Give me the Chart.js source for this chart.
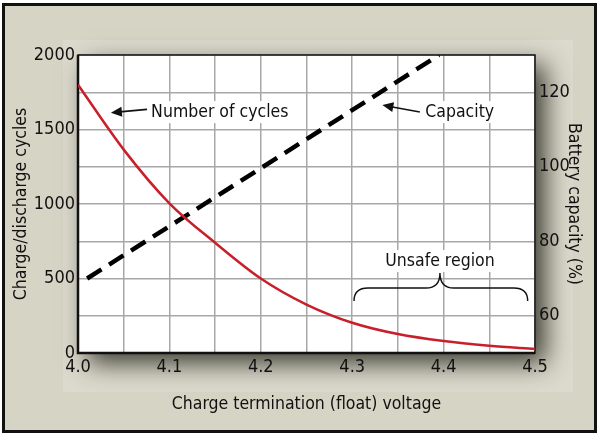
<!DOCTYPE html>
<html>
<head>
<meta charset="utf-8">
<script src="https://cdn.jsdelivr.net/npm/chart.js@4.4.1/dist/chart.umd.min.js"></script>
<style>
  html, body { margin: 0; padding: 0; background: #fff; }
  canvas { display: block; }
</style>
</head>
<body>
<canvas id="chart" width="600" height="440"></canvas>
<script>
// Chart data
const voltages   = [4.0, 4.05, 4.1, 4.15, 4.2, 4.25, 4.3, 4.35, 4.4, 4.45, 4.5];
const cycles     = [1800, 1365, 1005, 740, 500, 325, 203, 127, 80, 49, 27];
const capVolts   = [4.01, 4.395];
const capacity   = [70, 130];
const cycleTicks = [0, 500, 1000, 1500, 2000];
const capTicks   = [60, 80, 100, 120];
const voltTicks  = [4.0, 4.1, 4.2, 4.3, 4.4, 4.5];

const FONT = '"DejaVu Sans Condensed", "Liberation Sans Narrow", "Roboto", sans-serif';

// callouts, in data units (x = volts, y = cycles)
const notes = {
  cycles:   { text: 'Number of cycles', x: 4.08, y: 1617, from: [4.0755, 1635], to: [4.036, 1613] },
  capacity: { text: 'Capacity',         x: 4.38, y: 1617, from: [4.374, 1617],  to: [4.333, 1664] },
  unsafe:   { text: 'Unsafe region',    x: 4.396, y: 617, x0: 4.302, x1: 4.492, yEnd: 349, yMid: 436, yPeak: 537 }
};

// background, frame and shadowed plot panel
const panelPlugin = {
  id: 'panel',
  beforeDraw(chart) {
    const { ctx, chartArea: a } = chart;
    ctx.save();
    ctx.fillStyle = '#fff';
    ctx.fillRect(0, 0, 600, 440);
    ctx.fillStyle = '#d6d4c5';
    ctx.fillRect(3, 4, 593, 428);
    ctx.fillStyle = '#dcdacd';
    ctx.fillRect(63, 40, 510, 352);
    ctx.lineWidth = 3;
    ctx.strokeStyle = '#111';
    ctx.strokeRect(3.5, 4.5, 592, 427);

    ctx.shadowColor = 'rgba(30,30,20,0.85)';
    ctx.shadowBlur = 24;
    ctx.shadowOffsetX = 10;
    ctx.shadowOffsetY = 10;
    ctx.fillStyle = '#fff';
    ctx.fillRect(a.left, a.top, a.right - a.left, a.bottom - a.top);
    ctx.restore();
  },
  beforeDatasetsDraw(chart) {
    const { ctx, chartArea: a } = chart;
    ctx.save();
    ctx.strokeStyle = '#111';
    ctx.lineWidth = 1.5;
    ctx.strokeRect(a.left, a.top, a.right - a.left, a.bottom - a.top);
    ctx.lineWidth = 2.5;
    ctx.beginPath();
    ctx.moveTo(a.left, a.top);
    ctx.lineTo(a.left, a.bottom);
    ctx.lineTo(a.right, a.bottom);
    ctx.stroke();
    ctx.restore();
  }
};

function arrow(ctx, x0, y0, x1, y1) {
  const ang = Math.atan2(y1 - y0, x1 - x0);
  const len = 11, half = 5;
  ctx.beginPath();
  ctx.moveTo(x0, y0);
  ctx.lineTo(x1 - Math.cos(ang) * len * 0.8, y1 - Math.sin(ang) * len * 0.8);
  ctx.stroke();
  ctx.beginPath();
  ctx.moveTo(x1, y1);
  ctx.lineTo(x1 - Math.cos(ang) * len + Math.sin(ang) * half, y1 - Math.sin(ang) * len - Math.cos(ang) * half);
  ctx.lineTo(x1 - Math.cos(ang) * len - Math.sin(ang) * half, y1 - Math.sin(ang) * len + Math.cos(ang) * half);
  ctx.closePath();
  ctx.fill();
}

function label(ctx, text, x, y, align) {
  ctx.font = '17.5px ' + FONT;
  ctx.textAlign = align;
  ctx.textBaseline = 'middle';
  const w = ctx.measureText(text).width;
  const left = align === 'center' ? x - w / 2 : x;
  ctx.fillStyle = '#fff';
  ctx.fillRect(left - 2, y - 11, w + 4, 22);
  ctx.fillStyle = '#111';
  ctx.fillText(text, x, y);
}

const notesPlugin = {
  id: 'notes',
  afterDatasetsDraw(chart) {
    const { ctx, scales: { x, y } } = chart;
    const px = v => x.getPixelForValue(v), py = v => y.getPixelForValue(v);
    ctx.save();
    ctx.strokeStyle = '#111';
    ctx.fillStyle = '#111';
    ctx.lineWidth = 1.6;

    [notes.cycles, notes.capacity].forEach(n => {
      label(ctx, n.text, px(n.x), py(n.y), 'left');
      ctx.fillStyle = '#111';
      arrow(ctx, px(n.from[0]), py(n.from[1]), px(n.to[0]), py(n.to[1]));
    });

    // brace over the unsafe region
    const u = notes.unsafe;
    label(ctx, u.text, px(u.x), py(u.y), 'center');
    const l = px(u.x0), r = px(u.x1), m = px(u.x);
    const ye = py(u.yEnd), yh = py(u.yMid), yp = py(u.yPeak);
    ctx.lineWidth = 1.4;
    ctx.beginPath();
    ctx.moveTo(l, ye);
    ctx.quadraticCurveTo(l, yh, l + 14, yh);
    ctx.lineTo(m - 14, yh);
    ctx.quadraticCurveTo(m, yh, m, yp);
    ctx.quadraticCurveTo(m, yh, m + 14, yh);
    ctx.lineTo(r - 14, yh);
    ctx.quadraticCurveTo(r, yh, r, ye);
    ctx.stroke();
    ctx.restore();
  }
};

const tickFont = { family: FONT, size: 18 };
const titleFont = { family: FONT, size: 17.5 };

new Chart(document.getElementById('chart'), {
  type: 'line',
  data: {
    datasets: [
      {
        label: 'Number of cycles',
        data: voltages.map((v, i) => ({ x: v, y: cycles[i] })),
        borderColor: '#c8202b',
        borderWidth: 2.5,
        pointRadius: 0,
        cubicInterpolationMode: 'monotone',
        yAxisID: 'y'
      },
      {
        label: 'Capacity',
        data: capVolts.map((v, i) => ({ x: v, y: capacity[i] })),
        borderColor: '#000',
        borderWidth: 4.5,
        borderDash: [17, 9],
        pointRadius: 0,
        yAxisID: 'y2'
      }
    ]
  },
  options: {
    responsive: false,
    animation: false,
    layout: { padding: { top: 55, left: 0, right: 0, bottom: 0 } },
    plugins: { legend: { display: false }, tooltip: { enabled: false } },
    scales: {
      x: {
        type: 'linear', min: 4.0, max: 4.5,
        afterBuildTicks: s => { s.ticks = voltages.map(v => ({ value: v })); },
        afterFit: s => { s.height = 87; },
        grid: { color: '#a8a8a8', lineWidth: 1.5, drawTicks: false },
        border: { display: false },
        ticks: {
          color: '#111', font: tickFont, padding: 4, maxRotation: 0, autoSkip: false,
          callback: v => voltTicks.some(t => Math.abs(t - v) < 1e-6) ? v.toFixed(1) : ''
        },
        title: { display: true, text: 'Charge termination (float) voltage', color: '#111', font: titleFont, padding: { top: 0, bottom: 25 } }
      },
      y: {
        position: 'left', min: 0, max: 2000,
        afterBuildTicks: s => { s.ticks = [0, 250, 500, 750, 1000, 1250, 1500, 1750, 2000].map(v => ({ value: v })); },
        afterFit: s => { s.width = 78; },
        grid: { color: '#a8a8a8', lineWidth: 1.5, drawTicks: false },
        border: { display: false },
        ticks: {
          color: '#111', font: tickFont, padding: 3,
          callback: v => cycleTicks.includes(v) ? String(v) : ''
        },
        title: { display: true, text: 'Charge/discharge cycles', color: '#111', font: titleFont, padding: { top: 11, bottom: 0 } }
      },
      y2: {
        position: 'right', min: 50, max: 130,
        afterBuildTicks: s => { s.ticks = capTicks.map(v => ({ value: v })); },
        afterFit: s => { s.width = 65; },
        grid: { display: false, drawTicks: false },
        border: { display: false },
        ticks: { color: '#111', font: tickFont, padding: 4 },
        title: { display: true, text: 'Battery capacity (%)', color: '#111', font: titleFont, padding: { top: 16, bottom: 0 } }
      }
    }
  },
  plugins: [panelPlugin, notesPlugin]
});
</script>
</body>
</html>
